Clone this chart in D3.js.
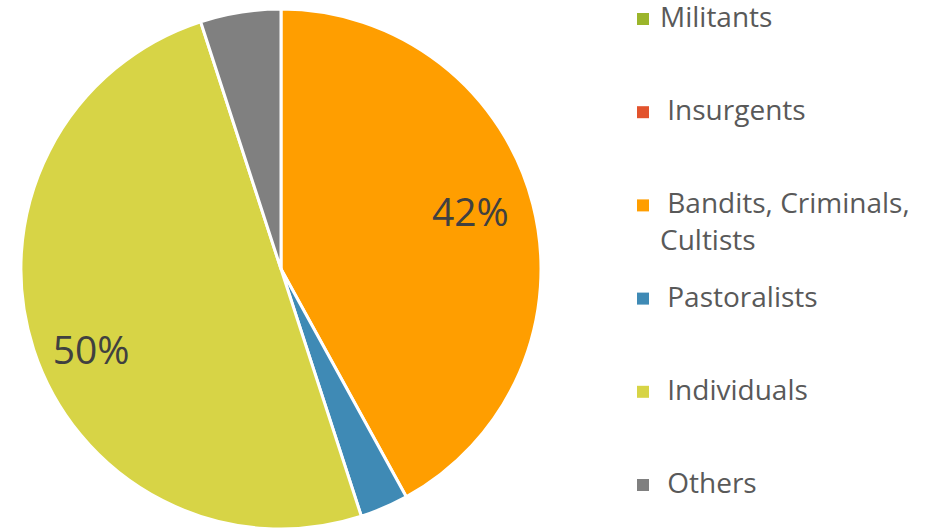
<!DOCTYPE html>
<html><head><meta charset="utf-8">
<script src="https://cdn.jsdelivr.net/npm/d3@7"></script>
<style>html,body{margin:0;padding:0;background:#fff;}svg{display:block;}</style>
</head><body>
<svg id="chart" width="927" height="529"></svg>
<script>
const categories = ["Militants", "Insurgents", "Bandits, Criminals, Cultists", "Pastoralists", "Individuals", "Others"];
const legendLines = [["Militants"], [" Insurgents"], [" Bandits, Criminals,", "Cultists"], [" Pastoralists"], [" Individuals"], [" Others"]];
const values = [0, 0, 42, 3, 50, 5];
const colors = ["#9bb52b", "#e2532d", "#ff9e00", "#3f8ab5", "#d7d446", "#808080"];
const shownLabels = ["", "", "42%", "", "50%", ""];

const svg = d3.select("#chart");
const cx = 281, cy = 269, r = 260;
const pie = d3.pie().sort(null).value(d => d)(values);
const arc = d3.arc().innerRadius(0).outerRadius(r);
const g = svg.append("g").attr("transform", `translate(${cx},${cy})`);
g.selectAll("path").data(pie).join("path")
  .attr("d", arc)
  .attr("fill", (d, i) => colors[i])
  .attr("stroke", "#fff").attr("stroke-width", 3).attr("stroke-linejoin", "round");

const labelArc = d3.arc().innerRadius(r * 0.76).outerRadius(r * 0.76);
// small layout nudge so labels sit where the original placed them
const nudge = i => (i === 4 ? [-2, 20] : [-2, -8]);
g.selectAll("text.lbl").data(pie).join("text")
  .attr("class", "lbl")
  .attr("transform", (d, i) => { const c = labelArc.centroid(d); const n = nudge(i); return `translate(${c[0] + n[0]},${c[1] + n[1]})`; })
  .attr("text-anchor", "middle").attr("dy", "0.35em")
  .attr("font-family", "Open Sans, sans-serif").attr("font-size", 39)
  .attr("fill", "#404040")
  .text((d, i) => shownLabels[i]);

const legendY = d3.scalePoint().domain(d3.range(categories.length)).range([27, 493]);
const lg = svg.append("g");
categories.forEach((c, i) => {
  const y = legendY(i);
  lg.append("rect").attr("x", 637).attr("y", y - 14).attr("width", 12).attr("height", 12).attr("fill", colors[i]);
  const t = lg.append("text").attr("x", 660).attr("y", y)
    .attr("font-family", "Open Sans, sans-serif").attr("font-size", 28).attr("fill", "#595959")
    .attr("xml:space", "preserve").style("white-space", "pre");
  legendLines[i].forEach((line, j) => {
    t.append("tspan").attr("x", 660).attr("y", y + j * 37).text(line);
  });
});
</script>
</body></html>
